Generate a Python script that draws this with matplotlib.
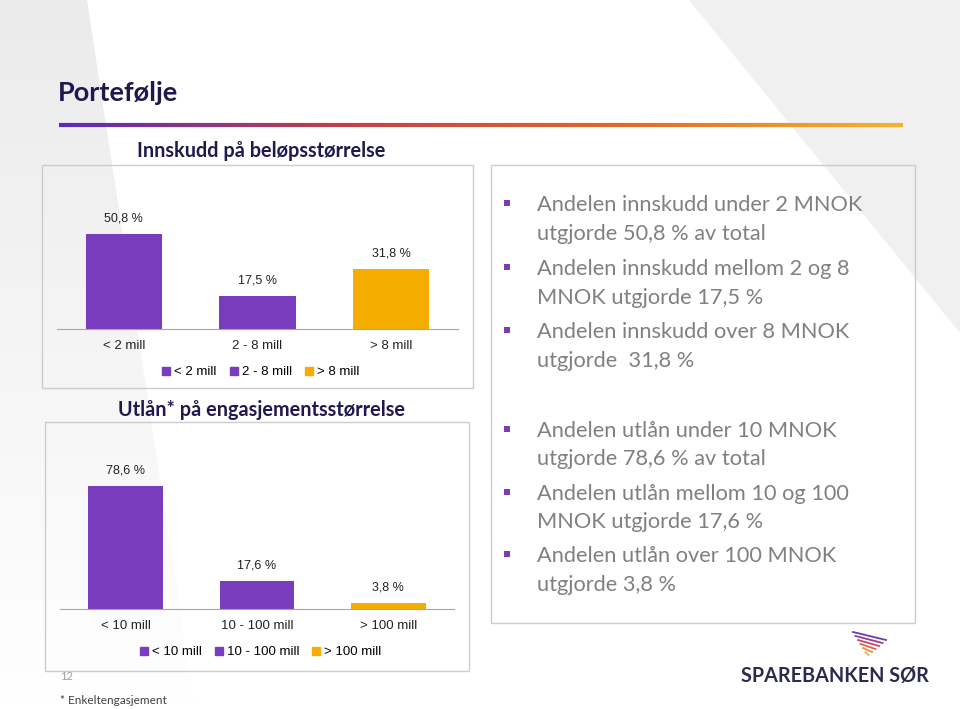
import numpy as np
import matplotlib
matplotlib.use('Agg')
import matplotlib.pyplot as plt
from matplotlib.patches import Rectangle, Polygon
from matplotlib.lines import Line2D
from matplotlib.collections import LineCollection
from matplotlib.colors import LinearSegmentedColormap

# data
innskudd_kat = ['< 2 mill', '2 - 8 mill', '> 8 mill']
innskudd_verdi = [50.8, 17.5, 31.8]
utlan_kat = ['< 10 mill', '10 - 100 mill', '> 100 mill']
utlan_verdi = [78.6, 17.6, 3.8]

punkter_innskudd = [
    ['Andelen innskudd under 2 MNOK', 'utgjorde 50,8 % av total'],
    ['Andelen innskudd mellom 2 og 8', 'MNOK utgjorde 17,5 %'],
    ['Andelen innskudd over 8 MNOK', 'utgjorde  31,8 %'],
]
punkter_utlan = [
    ['Andelen utlån under 10 MNOK', 'utgjorde 78,6 % av total'],
    ['Andelen utlån mellom 10 og 100', 'MNOK utgjorde 17,6 %'],
    ['Andelen utlån over 100 MNOK', 'utgjorde 3,8 %'],
]

lilla = '#783cbd'
oransje = '#f5ae00'
farger = [lilla, lilla, oransje]
navy = '#1e1a4f'

W, H = 960, 709
fig = plt.figure(figsize=(W / 100, H / 100), dpi=100)


def px_rect(x0, y0, x1, y1):
    return [x0 / W, 1 - y1 / H, (x1 - x0) / W, (y1 - y0) / H]


# background layer in pixel coords
bg = fig.add_axes([0, 0, 1, 1])
bg.set_xlim(0, W)
bg.set_ylim(H, 0)
bg.axis('off')

# grey shapes in the background
grad = np.linspace(1, 0, 200).reshape(-1, 1)
grey_cmap = LinearSegmentedColormap.from_list('g', ['#ffffff', '#ebebeb'])
im = bg.imshow(grad, cmap=grey_cmap, extent=(0, 200, 709, 0), aspect='auto', zorder=0)
poly_left = Polygon([(0, 0), (87, 0), (195, 709), (0, 709)], closed=True, transform=bg.transData)
im.set_clip_path(poly_left)
bg.add_patch(Polygon([(689, 0), (960, 0), (960, 333)], closed=True, color='#f0f0f0', lw=0, zorder=0))
bg.set_xlim(0, W)
bg.set_ylim(H, 0)

# title and gradient rule
bg.text(58, 93, 'Portefølje', fontsize=19.5, fontweight='bold', color=navy,
        family='Lato', va='center', ha='left')
xs = np.linspace(59, 903, 300)
segs = [[(xs[i], 124.5), (xs[i + 1], 124.5)] for i in range(len(xs) - 1)]
rule_cmap = LinearSegmentedColormap.from_list('r', ['#5a2bb8', '#c0404a', '#e06a28', '#f5b232'])
lc = LineCollection(segs, colors=rule_cmap(np.linspace(0, 1, len(segs))), linewidths=3)
bg.add_collection(lc)

# frames
for (x0, y0, x1, y1) in [(42, 165, 473, 388), (45, 422, 469, 671), (491, 165, 915, 623)]:
    bg.add_patch(Rectangle((x0, y0), x1 - x0, y1 - y0, facecolor='none',
                           edgecolor='#cccccc', lw=1))

bg.text(261, 151, 'Innskudd på beløpsstørrelse', fontsize=14.3, fontweight='bold',
        color=navy, family='Lato', ha='center', va='center')
bg.text(261, 410, 'Utlån* på engasjementsstørrelse', fontsize=14.3, fontweight='bold',
        color=navy, family='Lato', ha='center', va='center')


def bar_chart(rect, kat, verdi, ytop, legend_y):
    ax = fig.add_axes(px_rect(*rect))
    ax.patch.set_alpha(0)
    x = np.arange(len(kat))
    ax.bar(x, verdi, width=0.57, color=farger)
    for xi, v in zip(x, verdi):
        ax.annotate(f'{v:.1f} %'.replace('.', ','), (xi, v), xytext=(0, 7),
                    textcoords='offset points', ha='center', va='bottom',
                    fontsize=9, family='Liberation Sans', color='#222222')
    ax.set_xlim(-0.5, len(kat) - 0.5)
    ax.set_ylim(0, ytop)
    ax.set_xticks(x)
    ax.set_xticklabels(kat, fontsize=9.5, family='Liberation Sans', color='#222222')
    ax.tick_params(length=0, pad=8)
    ax.set_yticks([])
    for s in ['top', 'left', 'right']:
        ax.spines[s].set_visible(False)
    ax.spines['bottom'].set_color('#a6a6a6')
    handles = [Line2D([], [], marker='s', linestyle='', color=c, markersize=5.5) for c in farger]
    fig.legend(handles, kat, loc='center', bbox_to_anchor=(260 / W, 1 - legend_y / H),
               ncol=3, frameon=False, handletextpad=0.2, columnspacing=0.9,
               handlelength=0.8, prop={'family': 'Liberation Sans', 'size': 9.5})
    return ax


bar_chart((57, 179, 458, 329), innskudd_kat, innskudd_verdi, 80, 372)
bar_chart((60, 437, 454, 609), utlan_kat, utlan_verdi, 110, 652)

# bullet text on the right
line_y = [205, 234, 269, 298, 332, 361, 431, 459, 494, 522, 556, 585]
linjer = [l for p in punkter_innskudd + punkter_utlan for l in p]
for i, (txt, y) in enumerate(zip(linjer, line_y)):
    if i % 2 == 0:
        bg.add_patch(Rectangle((504, y - 5), 6, 6, color=lilla, lw=0))
    bg.text(537, y, txt, fontsize=15.7, color='#808080', family='Lato', va='center', ha='left')

# footer
bg.text(60, 677, '12', fontsize=8, color='#a0a0a0', family='Lato', va='center')
bg.text(60, 700, '* Enkeltengasjement', fontsize=8.5, color='#404040', family='Lato', va='center')

# logo
stripe_cols = ['#6a3cb0', '#9a3c90', '#c8466a', '#e0664a', '#eb8c3c', '#f3b43a']
for i, c in enumerate(stripe_cols):
    bg.plot([853 + 2.5 * i, 886 - 3.5 * i], [632 + 4 * i, 640 + 3 * i], color=c, lw=1.3)
bg.text(835, 676, 'SPAREBANKEN SØR', fontsize=14.2, fontweight='bold', color='#2b2b4f',
        family='Lato', ha='center', va='center')

fig.savefig('out.png', dpi=100)
